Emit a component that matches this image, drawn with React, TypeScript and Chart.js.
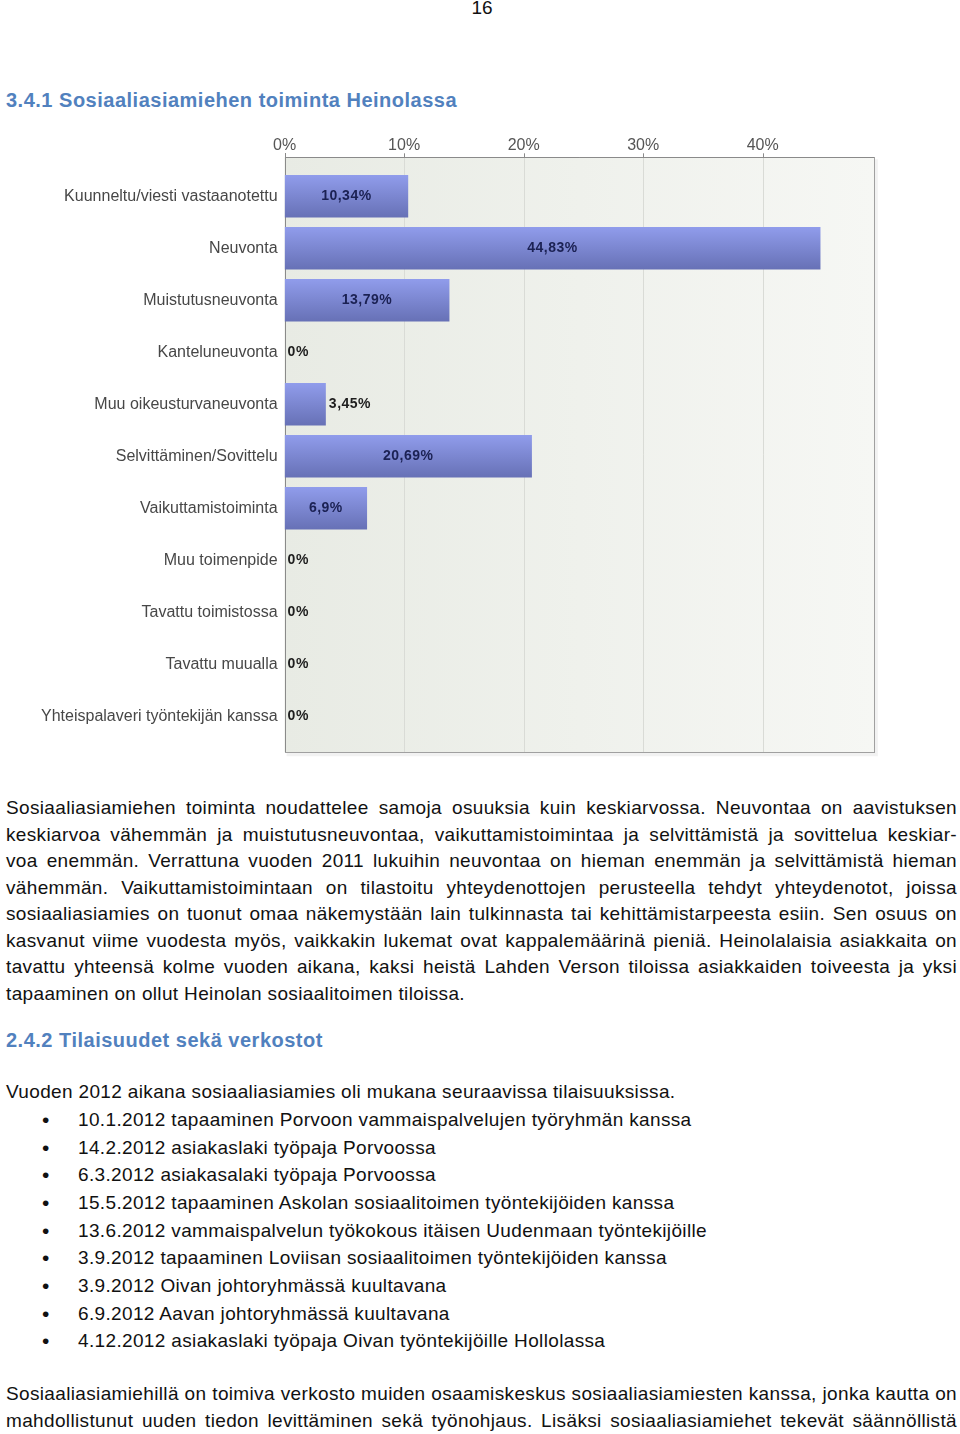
import React, { useEffect, useRef } from "react";
import { Chart, registerables } from "chart.js";

Chart.register(...registerables);

// ---------- chart data ----------
const categories = [
  "Kuunneltu/viesti vastaanotettu",
  "Neuvonta",
  "Muistutusneuvonta",
  "Kanteluneuvonta",
  "Muu oikeusturvaneuvonta",
  "Selvittäminen/Sovittelu",
  "Vaikuttamistoiminta",
  "Muu toimenpide",
  "Tavattu toimistossa",
  "Tavattu muualla",
  "Yhteispalaveri työntekijän kanssa",
];
const shares = [10.34, 44.83, 13.79, 0, 3.45, 20.69, 6.9, 0, 0, 0, 0];
const valueLabels = ["10,34%", "44,83%", "13,79%", "0%", "3,45%", "20,69%", "6,9%", "0%", "0%", "0%", "0%"];
const xTicks = [0, 10, 20, 30, 40];
const xMax = 49.3;

// ---------- page text ----------
const pageNumber = "16";
const heading1 = "3.4.1 Sosiaaliasiamiehen toiminta Heinolassa";
const paragraph1Lines = [
  "Sosiaaliasiamiehen toiminta noudattelee samoja osuuksia kuin keskiarvossa. Neuvontaa on aavistuksen",
  "keskiarvoa vähemmän ja muistutusneuvontaa, vaikuttamistoimintaa ja selvittämistä ja sovittelua keskiar-",
  "voa enemmän. Verrattuna vuoden 2011 lukuihin neuvontaa on hieman enemmän ja selvittämistä hieman",
  "vähemmän. Vaikuttamistoimintaan on tilastoitu yhteydenottojen perusteella tehdyt yhteydenotot, joissa",
  "sosiaaliasiamies on tuonut omaa näkemystään lain tulkinnasta tai kehittämistarpeesta esiin. Sen osuus on",
  "kasvanut viime vuodesta myös, vaikkakin lukemat ovat kappalemäärinä pieniä. Heinolalaisia asiakkaita on",
  "tavattu yhteensä kolme vuoden aikana, kaksi heistä Lahden Verson tiloissa asiakkaiden toiveesta ja yksi",
  "tapaaminen on ollut Heinolan sosiaalitoimen tiloissa.",
];
const heading2 = "2.4.2 Tilaisuudet sekä verkostot";
const introLine = "Vuoden 2012 aikana sosiaaliasiamies oli mukana seuraavissa tilaisuuksissa.";
const bulletItems = [
  "10.1.2012 tapaaminen Porvoon vammaispalvelujen työryhmän kanssa",
  "14.2.2012 asiakaslaki työpaja Porvoossa",
  "6.3.2012 asiakasalaki työpaja Porvoossa",
  "15.5.2012 tapaaminen Askolan sosiaalitoimen työntekijöiden kanssa",
  "13.6.2012 vammaispalvelun työkokous itäisen Uudenmaan työntekijöille",
  "3.9.2012 tapaaminen Loviisan sosiaalitoimen työntekijöiden kanssa",
  "3.9.2012 Oivan johtoryhmässä kuultavana",
  "6.9.2012 Aavan johtoryhmässä kuultavana",
  "4.12.2012 asiakaslaki työpaja Oivan työntekijöille Hollolassa",
];
const paragraph2Lines = [
  "Sosiaaliasiamiehillä on toimiva verkosto muiden osaamiskeskus sosiaaliasiamiesten kanssa, jonka kautta on",
  "mahdollistunut uuden tiedon levittäminen sekä työnohjaus. Lisäksi sosiaaliasiamiehet tekevät säännöllistä",
];

const CANVAS_TOP = 120;
const CANVAS_W = 960;
const CANVAS_H = 660;
const BODY_FONT = "'Liberation Sans', Arial, sans-serif";

function BarChart() {
  const ref = useRef<HTMLCanvasElement | null>(null);

  useEffect(() => {
    const canvas = ref.current;
    if (!canvas) return;

    const framePlugin = {
      id: "frame",
      beforeDatasetsDraw(chart: any) {
        const { ctx, chartArea: a, scales } = chart;
        const x = scales.x;
        const top = a.top - 13;
        const bottom = a.bottom + 10;
        ctx.save();
        ctx.fillStyle = "rgba(0,0,0,0.05)";
        ctx.fillRect(a.left + 2, top + 2, a.right - a.left + 2, bottom - top + 2);
        const g = ctx.createLinearGradient(a.left, 0, a.right, 0);
        g.addColorStop(0, "#e8ebe4");
        g.addColorStop(0.5, "#eff1ec");
        g.addColorStop(1, "#f6f7f4");
        ctx.fillStyle = g;
        ctx.fillRect(a.left, top, a.right - a.left, bottom - top);
        ctx.lineWidth = 1;
        xTicks.forEach((v) => {
          if (v === 0) return;
          const px = Math.round(x.getPixelForValue(v)) + 0.5;
          ctx.strokeStyle = "#d9dbd6";
          ctx.beginPath();
          ctx.moveTo(px, top);
          ctx.lineTo(px, bottom);
          ctx.stroke();
          ctx.strokeStyle = "#8a8a8a";
          ctx.beginPath();
          ctx.moveTo(px, top - 4);
          ctx.lineTo(px, top);
          ctx.stroke();
        });
        ctx.strokeStyle = "#a0a0a0";
        ctx.strokeRect(Math.round(a.left) + 0.5, Math.round(top) + 0.5, Math.round(a.right - a.left), Math.round(bottom - top));
        ctx.strokeStyle = "#8a8a8a";
        ctx.beginPath();
        ctx.moveTo(Math.round(a.left) + 0.5, Math.round(top) - 4);
        ctx.lineTo(Math.round(a.left) + 0.5, Math.round(bottom));
        ctx.moveTo(Math.round(a.left), Math.round(top) + 0.5);
        ctx.lineTo(Math.round(a.right), Math.round(top) + 0.5);
        ctx.stroke();
        ctx.restore();
      },
      afterDatasetsDraw(chart: any) {
        const { ctx } = chart;
        const meta = chart.getDatasetMeta(0);
        ctx.save();
        ctx.font = "bold 14px 'Liberation Sans', Arial, sans-serif";
        (ctx as any).letterSpacing = "0.5px";
        ctx.textBaseline = "middle";
        meta.data.forEach((bar: any, i: number) => {
          const { x, y, base } = bar.getProps(["x", "y", "base"], true);
          const label = valueLabels[i];
          const tw = ctx.measureText(label).width;
          const w = x - base;
          if (tw + 10 < w) {
            ctx.fillStyle = "#1b2153";
            ctx.textAlign = "center";
            ctx.fillText(label, (x + base) / 2, y);
          } else {
            ctx.fillStyle = "#1e1e1e";
            ctx.textAlign = "left";
            ctx.fillText(label, x + 3, y);
          }
        });
        ctx.restore();
      },
    };

    const chart = new Chart(canvas, {
      type: "bar",
      data: {
        labels: categories,
        datasets: [
          {
            data: shares,
            categoryPercentage: 1,
            barPercentage: 0.817,
            borderWidth: 0,
            backgroundColor: (c: any) => {
              const yScale = c.chart.scales && c.chart.scales.y;
              if (!yScale || c.dataIndex === undefined) return "#7b86d0";
              const cy = yScale.getPixelForValue(c.dataIndex);
              if (!Number.isFinite(cy)) return "#7b86d0";
              const g = c.chart.ctx.createLinearGradient(0, cy - 21, 0, cy + 21);
              g.addColorStop(0, "#909ceb");
              g.addColorStop(1, "#6771b6");
              return g;
            },
          },
        ],
      },
      options: {
        indexAxis: "y",
        animation: false,
        responsive: false,
        maintainAspectRatio: false,
        layout: { padding: { left: 0, top: 0, right: CANVAS_W - 873.9, bottom: CANVAS_H - 622.3 } },
        plugins: { legend: { display: false }, tooltip: { enabled: false } },
        scales: {
          x: {
            type: "linear",
            position: "top",
            min: 0,
            max: xMax,
            afterBuildTicks: (s: any) => {
              s.ticks = xTicks.map((v) => ({ value: v }));
            },
            afterFit: (s: any) => {
              s.height = 50.3;
            },
            grid: { display: false },
            border: { display: false },
            ticks: {
              padding: 7,
              color: "#555555",
              font: { family: "'Liberation Sans', Arial, sans-serif", size: 16 },
              callback: (v: any) => v + "%",
            },
          },
          y: {
            type: "category",
            afterFit: (s: any) => {
              s.width = 284.6;
            },
            grid: { display: false, drawTicks: false },
            border: { display: false },
            ticks: {
              padding: 7,
              color: "#474747",
              font: { family: "'Liberation Sans', Arial, sans-serif", size: 16 },
            },
          },
        },
      },
      plugins: [framePlugin],
    } as any);

    return () => chart.destroy();
  }, []);

  return (
    <canvas
      ref={ref}
      width={CANVAS_W}
      height={CANVAS_H}
      style={{
        position: "absolute",
        left: 0,
        top: CANVAS_TOP,
        width: CANVAS_W,
        height: CANVAS_H,
        display: "block",
        letterSpacing: "0px",
      }}
    />
  );
}

function Line({ text, cy, left = 6, width = 951, justify = false, style = {} }: any) {
  return (
    <div
      style={{
        position: "absolute",
        left,
        width,
        top: cy - 13,
        height: 26,
        lineHeight: "26px",
        textAlign: justify ? "justify" : "left",
        textAlignLast: justify ? "justify" : "auto",
        ...style,
      }}
    >
      {text}
    </div>
  );
}

export default function App() {
  const p1Y = [808, 834.5, 861, 887.5, 914, 940.5, 967, 993.5];
  const bulletY = [1120, 1147.5, 1175, 1203, 1230.5, 1258, 1286, 1313.5, 1341];
  const p2Y = [1394, 1421];
  const headingStyle = { color: "#5181be", fontWeight: "bold", fontSize: 20, letterSpacing: "0.5px" };
  return (
    <div
      style={{
        position: "relative",
        width: 960,
        height: 1434,
        overflow: "hidden",
        background: "#ffffff",
        fontFamily: BODY_FONT,
        fontSize: 19,
        color: "#111111",
      }}
    >
      <style>{"body{margin:0;}"}</style>
      <div style={{ position: "absolute", left: 0, width: 964, top: -5, textAlign: "center", lineHeight: "26px", fontSize: 19 }}>
        {pageNumber}
      </div>
      <Line text={heading1} cy={100} style={headingStyle} />
      <BarChart />
      <div style={{ letterSpacing: "0.35px" }}>
        {paragraph1Lines.map((t, i) => (
          <Line key={"p1" + i} text={t} cy={p1Y[i]} justify={i < paragraph1Lines.length - 1} />
        ))}
        <Line text={heading2} cy={1040} style={headingStyle} />
        <Line text={introLine} cy={1092} />
        {bulletItems.map((t, i) => (
          <React.Fragment key={"b" + i}>
            <Line text={"•"} cy={bulletY[i]} left={42} width={20} style={{ fontSize: 21 }} />
            <Line text={t} cy={bulletY[i]} left={78} width={870} />
          </React.Fragment>
        ))}
        {paragraph2Lines.map((t, i) => (
          <Line key={"p2" + i} text={t} cy={p2Y[i]} justify={true} />
        ))}
      </div>
    </div>
  );
}
